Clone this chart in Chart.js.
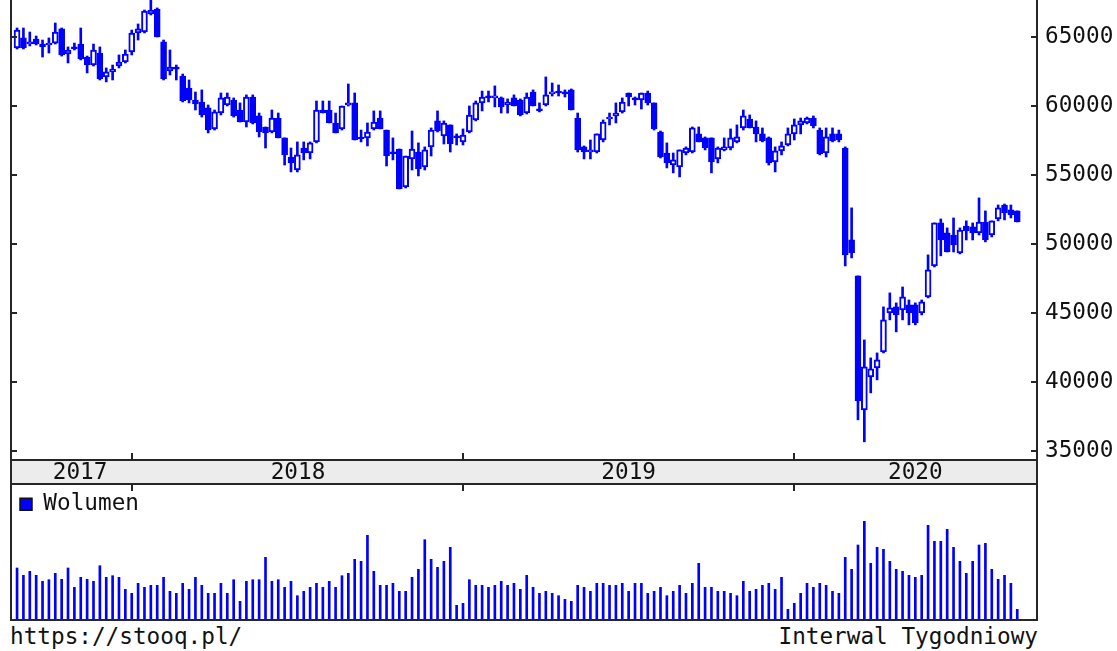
<!DOCTYPE html>
<html>
<head>
<meta charset="utf-8">
<script src="https://cdn.jsdelivr.net/npm/chart.js@4.4.1/dist/chart.umd.min.js"></script>
<style>
  html, body { margin: 0; padding: 0; background: #fff; }
  body { width: 1117px; height: 651px; position: relative; overflow: hidden; font-family: "DejaVu Sans Mono", monospace; }
  #price { position: absolute; left: 0; top: 0; }
  #vol { position: absolute; left: 0; top: 484px; }
  .foot { position: absolute; top: 623px; font-size: 22.7px; line-height: 26px; color: #111; white-space: pre; }
</style>
</head>
<body>
<canvas id="price" width="1117" height="492"></canvas>
<canvas id="vol" width="1117" height="137"></canvas>
<div class="foot" style="left:10px">https://stooq.pl/</div>
<div class="foot" style="right:79px">Interwal Tygodniowy</div>
<script>
// weekly WIG candles, week 0 = 2017-09-01, last week = 2020-09-04
const years = ['2017', '2018', '2019', '2020'];
const yearStartWeek = [18, 70, 122];          // first week of 2018, 2019, 2020
const yearLabelWeek = [9.9, 44.1, 96, 141];
const yTicks = [35000, 40000, 45000, 50000, 55000, 60000, 65000];

const opens = [64180,64910,64470,64830,64470,64400,64540,65560,63750,64260,64470,63530,62950,63820,62090,62450,62880,63170,63890,65270,
  65340,66640,67000,64620,62520,62810,62160,61290,60420,60280,59850,58330,59480,60060,60420,59700,58830,60640,59270,58470,
  58110,59120,57680,56300,55360,56950,56590,57390,59700,59700,58760,58330,60060,60210,57680,57680,58330,59120,58250,56660,
  56880,54130,56160,56660,55580,57030,58910,57820,58620,57750,57390,58110,58980,60210,60640,60570,60570,60060,60570,60420,
  59480,61000,59770,60060,60860,61000,60930,61150,59120,57030,56660,56660,57530,59050,59270,59560,60930,60570,60420,60930,
  60210,58110,56590,55720,55580,56590,56660,57970,57680,57680,56160,56810,56950,57390,58400,59050,58470,57970,57680,55940,
  56740,57170,57970,58620,58760,59120,58250,56590,57970,57970,56950,50300,47700,38010,40400,41050,42200,45020,45460,45240,
  45600,45600,45020,46180,48420,51530,50810,50660,49360,51300,51240,50810,51600,50660,51820,52830,52470,52400];
const highs = [65630,65630,65340,65050,64760,64910,65990,65630,64260,64540,65630,63600,64470,64260,62740,62950,63680,64040,65480,65920,
  66930,67650,67080,64760,64040,62950,62300,61870,61000,61150,60060,59700,60930,60930,60570,60210,60790,60790,59480,58470,
  59700,59480,57680,56950,57390,57390,57390,60350,60350,60350,59480,59990,61580,60930,58250,58760,59630,59630,58250,57680,
  56880,56370,58180,57320,57030,58400,59630,58910,58620,57970,58330,59990,60350,61070,61070,61440,60640,60500,60790,60500,
  60930,61150,60210,62090,61650,61510,61150,61220,59480,57100,57530,57970,58980,59480,60210,60570,60930,60640,60930,61070,
  60210,58180,57320,56590,56810,57030,58470,58470,57750,57680,57030,57680,58330,58620,59700,59340,58910,58400,57750,57030,
  57390,58400,59050,59120,59190,59270,58400,58400,58400,58250,57030,52620,47700,43070,41770,42130,45460,46470,45750,46900,
  45960,45750,45960,49220,51530,51820,51170,51890,51170,51680,51530,53340,52400,51680,52830,52900,52830,52400];
const lows = [64110,64110,64330,64400,63530,63820,64470,63600,63100,64040,63320,62380,62880,61870,61730,61870,62740,63100,63680,64760,
  65270,66570,64980,61870,62230,61870,60280,60210,59700,59190,58040,58250,59340,59990,59190,58830,58470,58690,57750,56950,
  58040,57680,55720,55220,55220,56090,56160,57320,59480,58760,58040,58250,59990,57530,57390,57100,58250,58330,55650,56090,
  53990,54060,55360,54930,55360,56370,58110,57240,56660,57170,57170,58040,58910,59630,60280,59920,59480,59480,59990,59270,
  59410,59990,59560,59990,60710,60710,60640,59700,56660,56160,56160,56590,57390,58620,58760,59480,59990,60060,59770,60060,
  58250,56230,55510,55150,54860,56450,56590,57390,56810,55150,55870,56740,56810,57320,58250,58400,57390,57390,55720,55220,
  56450,57100,57530,57970,58690,58400,56450,56300,57390,57390,48420,49000,37290,35700,39240,40180,42130,44520,43650,44520,
  44160,44160,44880,46110,48350,49150,49430,49430,49290,50300,50300,50660,50160,50520,51680,51750,51890,51600];
const closes = [65480,64180,64620,64470,64260,64540,65340,63680,64040,64110,63390,62950,64040,61940,62450,62660,63170,63750,65270,65560,
  66860,66930,64980,61940,62810,62660,60350,60420,60130,59340,58250,59560,60570,60640,59270,58830,60640,58760,58110,58040,
  59120,57680,56450,55870,56450,56590,57320,59700,59480,58760,58040,59990,60210,57530,57600,58110,58830,58330,56370,56520,
  53990,56370,56880,55440,56810,58250,58180,58760,57240,57680,57890,59340,60210,60640,60570,60640,59920,60280,59990,59340,
  60640,59990,59630,60790,61000,60930,60860,59700,56810,56660,56810,57970,58830,59190,59480,60280,60640,60420,60930,60210,
  58330,56300,55870,56090,56810,56950,58400,57390,56950,55940,56950,57030,57680,57750,59270,58400,57970,57460,55870,56740,
  57100,57970,58620,58910,59120,58540,56520,57750,57460,57530,49220,49360,38660,41120,40970,41630,44520,45390,44880,46180,
  45020,44300,45820,48130,51530,50300,49430,49940,51020,50950,50800,51600,50300,51680,52620,52250,52110,51600];
const volumes = [510,437,477,437,377,393,457,397,510,317,417,397,377,533,417,433,417,297,257,357,
  317,337,337,417,277,257,357,297,417,337,257,257,357,257,393,177,377,393,393,617,
  377,393,317,377,233,277,317,357,317,377,317,433,457,597,577,837,477,337,337,357,
  277,277,417,497,793,597,517,577,717,137,157,393,337,337,317,337,377,337,357,297,
  437,317,257,277,257,233,197,177,337,317,277,357,357,337,337,357,277,357,357,257,
  277,317,233,277,337,257,357,557,317,317,277,277,257,233,377,277,297,337,357,297,
  417,97,157,257,357,317,357,337,277,257,617,497,740,977,557,717,697,577,497,477,
  437,417,437,937,777,777,897,717,577,457,577,740,757,497,397,437,357,97];

const FONT = '"DejaVu Sans Mono", monospace';
const BLUE = '#0000ff';
const X_MIN = -0.95, X_MAX = 160.1;

const bodies = opens.map((o, i) => ({ x: i, y: [o, closes[i]] }));
const wicks = lows.map((l, i) => ({ x: i, y: [l, highs[i]] }));

const priceFrame = {
  id: 'priceFrame',
  afterDraw(chart) {
    const { ctx, chartArea: a, scales: { x, y } } = chart;
    const bandTop = a.bottom, bandBot = a.bottom + 24;
    ctx.save();
    ctx.fillStyle = '#ececec';
    ctx.fillRect(a.left, bandTop, a.right - a.left, bandBot - bandTop);
    ctx.strokeStyle = '#262626';
    ctx.lineWidth = 2;
    ctx.beginPath();
    ctx.moveTo(a.left, a.top); ctx.lineTo(a.left, bandBot + 1);
    ctx.moveTo(a.right, a.top); ctx.lineTo(a.right, bandBot + 1);
    ctx.moveTo(a.left, bandTop); ctx.lineTo(a.right, bandTop);
    ctx.moveTo(a.left, bandBot); ctx.lineTo(a.right, bandBot);
    yTicks.forEach(v => {
      const py = Math.round(y.getPixelForValue(v));
      ctx.moveTo(a.left, py); ctx.lineTo(a.left + 6, py);
      ctx.moveTo(a.right - 6, py); ctx.lineTo(a.right, py);
    });
    yearStartWeek.forEach(w => {
      const px = Math.round(x.getPixelForValue(w));
      ctx.moveTo(px, bandTop - 7); ctx.lineTo(px, bandTop);
      ctx.moveTo(px, bandBot); ctx.lineTo(px, bandBot + 7);
    });
    ctx.stroke();
    ctx.fillStyle = '#111';
    ctx.font = '22.7px ' + FONT;
    ctx.textAlign = 'center';
    ctx.textBaseline = 'alphabetic';
    years.forEach((t, k) => ctx.fillText(t, x.getPixelForValue(yearLabelWeek[k]), bandBot - 5));
    ctx.restore();
  }
};

new Chart(document.getElementById('price'), {
  type: 'bar',
  data: {
    datasets: [
      {
        label: 'body', data: bodies, grouped: false, order: 0,
        backgroundColor: c => closes[c.dataIndex] >= opens[c.dataIndex] ? '#ffffff' : BLUE,
        borderColor: BLUE, borderWidth: 2, borderSkipped: false,
        barThickness: 6, minBarLength: 2
      },
      {
        label: 'wick', data: wicks, grouped: false, order: 1,
        backgroundColor: BLUE, borderWidth: 0, barThickness: 2
      }
    ]
  },
  options: {
    responsive: false, animation: false, devicePixelRatio: 1,
    layout: { padding: { left: 11, right: 0, top: 0, bottom: 32 } },
    plugins: { legend: { display: false }, tooltip: { enabled: false } },
    scales: {
      x: { type: 'linear', min: X_MIN, max: X_MAX, offset: false, display: false },
      y: {
        position: 'right', min: 34385, max: 67654,
        grid: { display: false, drawTicks: false }, border: { display: false },
        ticks: { font: { family: FONT, size: 22.7 }, color: '#111', padding: 8, callback: v => String(v) },
        afterBuildTicks: s => { s.ticks = yTicks.map(v => ({ value: v })); },
        afterFit: s => { s.width = 80; s.paddingTop = 0; s.paddingBottom = 0; }
      }
    }
  },
  plugins: [priceFrame]
});

const volFrame = {
  id: 'volFrame',
  afterDraw(chart) {
    const { ctx, chartArea: a } = chart;
    ctx.save();
    ctx.strokeStyle = '#262626';
    ctx.lineWidth = 2;
    ctx.beginPath();
    ctx.moveTo(a.left, 0); ctx.lineTo(a.left, a.bottom + 2);
    ctx.moveTo(a.right, 0); ctx.lineTo(a.right, a.bottom + 2);
    ctx.moveTo(a.left - 1, a.bottom + 1); ctx.lineTo(a.right + 1, a.bottom + 1);
    ctx.stroke();
    ctx.restore();
  }
};

new Chart(document.getElementById('vol'), {
  type: 'bar',
  data: {
    datasets: [{
      label: 'Wolumen', data: volumes.map((v, i) => ({ x: i, y: v })),
      backgroundColor: BLUE, borderWidth: 0, barThickness: 2
    }]
  },
  options: {
    responsive: false, animation: false, devicePixelRatio: 1,
    layout: { padding: { left: 11, right: 80, top: 0, bottom: 2 } },
    plugins: {
      tooltip: { enabled: false },
      legend: {
        position: 'chartArea', align: 'start',
        labels: {
          boxWidth: 12, boxHeight: 12, padding: 9, color: '#111',
          font: { family: FONT, size: 22.7 },
          generateLabels: c => Chart.defaults.plugins.legend.labels.generateLabels(c)
            .map(l => ({ ...l, strokeStyle: '#111', lineWidth: 1.5 }))
        }
      }
    },
    scales: {
      x: { type: 'linear', min: X_MIN, max: X_MAX, offset: false, display: false },
      y: { min: 0, max: 1350, display: false }
    }
  },
  plugins: [volFrame]
});
</script>
</body>
</html>
